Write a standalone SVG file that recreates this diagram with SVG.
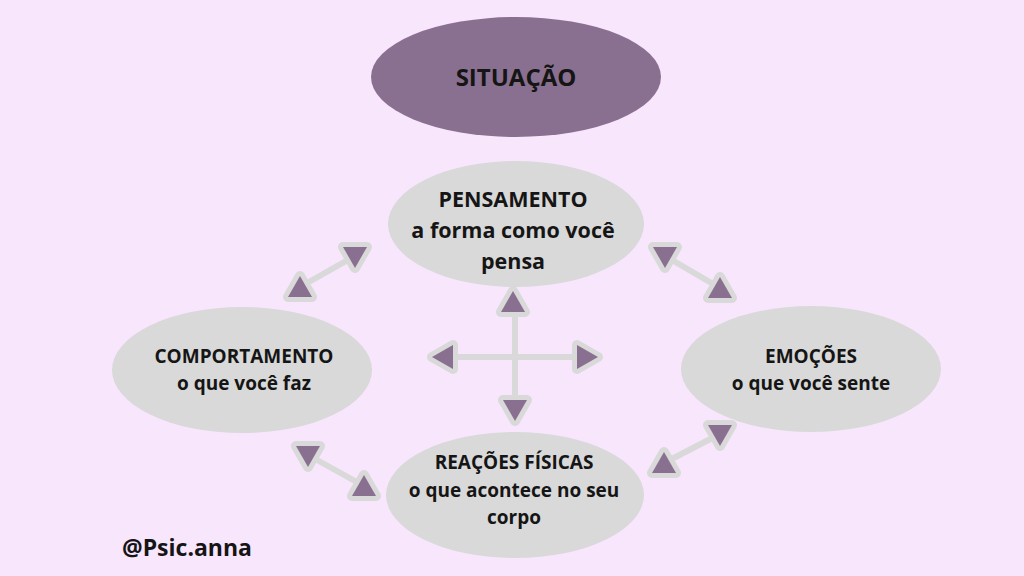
<svg xmlns="http://www.w3.org/2000/svg" width="1024" height="576" viewBox="0 0 1024 576">
<defs>
<style>
.bg{fill:#f8e6fd}
.node{fill:#d9d9d9}
.sit{fill:#8a7090}
text{font-family:"Open Sans","Liberation Sans",sans-serif;font-weight:bold;fill:#151515;text-anchor:middle}
.l{stroke:#d9d9d9;stroke-width:6;fill:none}
.tri{fill:#8a7090;stroke:#d9d9d9;stroke-width:10;stroke-linejoin:round;paint-order:stroke}
</style>
<path id="up" d="M0,-11 L12,10 L-12,10 Z"/>
<path id="dn" d="M0,11 L12,-10 L-12,-10 Z"/>
<path id="lt" d="M-11,0 L10,-12 L10,12 Z"/>
<path id="rt" d="M11,0 L-10,-12 L-10,12 Z"/>
</defs>
<rect class="bg" width="1024" height="576"/>
<g id="situacao">
<ellipse class="sit" cx="516" cy="77" rx="145" ry="60"/>
<text x="516" y="86" font-size="24">SITUAÇÃO</text>
</g>
<g id="pensamento">
<ellipse class="node" cx="516" cy="224" rx="128" ry="63"/>
<text x="513" y="207" font-size="21.5">PENSAMENTO</text>
<text x="513" y="238" font-size="21.5">a forma como você</text>
<text x="513" y="269" font-size="21.5">pensa</text>
</g>
<g id="comportamento">
<ellipse class="node" cx="242" cy="370" rx="130" ry="63"/>
<text x="244" y="363" font-size="19">COMPORTAMENTO</text>
<text x="244" y="390" font-size="19">o que você faz</text>
</g>
<g id="emocoes">
<ellipse class="node" cx="811" cy="369" rx="130" ry="63"/>
<text x="811" y="363" font-size="19">EMOÇÕES</text>
<text x="811" y="390" font-size="19">o que você sente</text>
</g>
<g id="reacoes">
<ellipse class="node" cx="515" cy="495" rx="129" ry="63"/>
<text x="514" y="469" font-size="19">REAÇÕES FÍSICAS</text>
<text x="514" y="497" font-size="19">o que acontece no seu</text>
<text x="514" y="524" font-size="19">corpo</text>
</g>
<g id="connectors">
<line class="l" x1="300" y1="287" x2="355" y2="256"/>
<use href="#up" class="tri" x="300" y="287"/>
<use href="#dn" class="tri" x="355" y="257"/>
<line class="l" x1="665" y1="256" x2="720" y2="288"/>
<use href="#dn" class="tri" x="665" y="257"/>
<use href="#up" class="tri" x="720" y="288"/>
<line class="l" x1="308" y1="455" x2="364" y2="486"/>
<use href="#dn" class="tri" x="308" y="456"/>
<use href="#up" class="tri" x="364" y="486"/>
<line class="l" x1="664" y1="463" x2="720" y2="434"/>
<use href="#up" class="tri" x="664" y="463"/>
<use href="#dn" class="tri" x="720" y="435"/>
<line class="l" x1="515" y1="302" x2="515" y2="410"/>
<line class="l" x1="443" y1="357" x2="587" y2="357"/>
<use href="#up" class="tri" x="513" y="302"/>
<use href="#dn" class="tri" x="515" y="410"/>
<use href="#lt" class="tri" x="443" y="357"/>
<use href="#rt" class="tri" x="587" y="357"/>
</g>
<text x="187" y="556" font-size="23">@Psic.anna</text>
</svg>
